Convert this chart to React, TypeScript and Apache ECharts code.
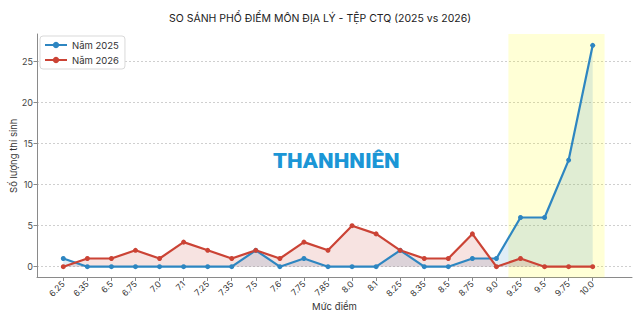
import React, { useEffect, useRef } from "react";
import * as echarts from "echarts";

const categories = ["6.25", "6.35", "6.5", "6.75", "7.0", "7.1", "7.25", "7.35", "7.5", "7.6", "7.75", "7.85", "8.0", "8.1", "8.25", "8.35", "8.5", "8.75", "9.0", "9.25", "9.5", "9.75", "10.0"];
const counts2025 = [1, 0, 0, 0, 0, 0, 0, 0, 2, 0, 1, 0, 0, 0, 2, 0, 0, 1, 1, 6, 6, 13, 27];
const counts2026 = [0, 1, 1, 2, 1, 3, 2, 1, 2, 1, 3, 2, 5, 4, 2, 1, 1, 4, 0, 1, 0, 0, 0];
const seriesNames = ["Năm 2025", "Năm 2026"];
// highlighted score band, in category-index units (9.0 .. 10.0 plus half a step)
const highlightBand = [18.5, 22.5];
const yMin = 0;
const yMax = 25;
const yStep = 5;

const FONT = "Inter, 'Noto Sans', sans-serif";
const BLUE = "#2E86C1";
const RED = "#CB4335";

export default function App() {
  const ref = useRef<HTMLDivElement>(null);
  useEffect(() => {
    if (!ref.current) return;
    const chart = echarts.init(ref.current, null, { renderer: "svg" });
    const frame = { left: 37, right: 8, top: 34, bottom: 42.5 };
    const data = { left: 63.3, right: 47.3, top: 61.7, bottom: 53.3 };
    chart.setOption({
      animation: false,
      backgroundColor: "#ffffff",
      textStyle: { fontFamily: FONT },
      title: {
        text: "SO SÁNH PHỔ ĐIỂM MÔN ĐỊA LÝ - TỆP CTQ (2025 vs 2026)",
        left: "center",
        top: 8,
        textStyle: { fontFamily: FONT, fontSize: 10.5, fontWeight: "normal", color: "#222" },
      },
      legend: {
        data: seriesNames,
        orient: "vertical",
        left: 40,
        top: 36,
        itemWidth: 22,
        itemHeight: 8,
        itemGap: 5,
        padding: [4, 6, 4, 4],
        borderColor: "#d9d9d9",
        borderWidth: 1,
        borderRadius: 3,
        backgroundColor: "#fff",
        textStyle: { fontFamily: FONT, fontSize: 9.5, color: "#333" },
      },
      graphic: [
        {
          type: "text",
          x: 273,
          y: 150,
          scaleX: 1.06,
          z: 1,
          style: {
            text: "THANHNIÊN",
            fontFamily: "Roboto, sans-serif",
            fontWeight: 900,
            fontSize: 21,
            fill: "#1B96D6",
            verticalAlign: "top",
            align: "left",
          },
        },
      ],
      grid: [
        { ...frame },
        { ...data },
        { left: frame.left, right: frame.right, top: data.top, bottom: data.bottom },
      ],
      xAxis: [
        {
          gridIndex: 0,
          type: "value",
          min: -1.1,
          max: 23.64,
          axisLine: { show: true, onZero: false, lineStyle: { color: "#8a8a8a", width: 1 } },
          axisTick: { show: false },
          axisLabel: { show: false },
          splitLine: { show: false },
          name: "Mức điểm",
          nameLocation: "middle",
          nameGap: 24,
          nameTextStyle: { fontFamily: FONT, fontSize: 9.5, color: "#333" },
        },
        {
          gridIndex: 1,
          type: "category",
          data: categories,
          boundaryGap: false,
          offset: 10.8,
          axisLine: { show: false, onZero: false },
          axisTick: { show: true, length: 3.5, lineStyle: { color: "#8a8a8a" } },
          axisLabel: { rotate: 45, fontSize: 8.5, color: "#333", margin: 5, interval: 0, fontFamily: FONT },
          splitLine: { show: false },
        },
        {
          gridIndex: 2,
          type: "value",
          min: 0,
          max: 1,
          show: false,
        },
      ],
      yAxis: [
        {
          gridIndex: 0,
          type: "value",
          min: -1.35,
          max: 28.35,
          axisLine: { show: true, onZero: false, lineStyle: { color: "#8a8a8a", width: 1 } },
          axisTick: { show: false },
          axisLabel: { show: false },
          splitLine: { show: false },
          name: "Số lượng thí sinh",
          nameLocation: "middle",
          nameGap: 19,
          nameTextStyle: { fontFamily: FONT, fontSize: 9.5, color: "#333" },
        },
        {
          gridIndex: 1,
          type: "value",
          min: yMin,
          max: yMax,
          interval: yStep,
          offset: 26.3,
          axisLine: { show: false, onZero: false },
          axisTick: { show: true, length: 3.5, lineStyle: { color: "#8a8a8a" } },
          axisLabel: { fontSize: 9, color: "#444", margin: 4, fontFamily: FONT },
          splitLine: { show: false },
        },
        {
          gridIndex: 2,
          type: "value",
          min: yMin,
          max: yMax,
          interval: yStep,
          axisLine: { show: false },
          axisTick: { show: false },
          axisLabel: { show: false },
          splitLine: { show: true, lineStyle: { color: "#cfcfcf", type: [2, 2], width: 1 } },
        },
      ],
      series: [
        {
          type: "line",
          xAxisIndex: 0,
          yAxisIndex: 0,
          data: [[0, -10]],
          showSymbol: false,
          lineStyle: { opacity: 0 },
          silent: true,
          markArea: {
            silent: true,
            itemStyle: { color: "rgba(255,255,0,0.16)" },
            data: [[{ xAxis: highlightBand[0] }, { xAxis: highlightBand[1] }]],
          },
        },
        {
          name: seriesNames[0],
          type: "line",
          xAxisIndex: 1,
          yAxisIndex: 1,
          data: counts2025,
          clip: false,
          symbol: "circle",
          symbolSize: 5,
          itemStyle: { color: BLUE },
          lineStyle: { color: BLUE, width: 2.2 },
          areaStyle: { color: BLUE, opacity: 0.15 },
          z: 4,
        },
        {
          name: seriesNames[1],
          type: "line",
          xAxisIndex: 1,
          yAxisIndex: 1,
          data: counts2026,
          clip: false,
          symbol: "circle",
          symbolSize: 5,
          itemStyle: { color: RED },
          lineStyle: { color: RED, width: 2.2 },
          areaStyle: { color: RED, opacity: 0.15 },
          z: 4,
        },
      ],
    });
    return () => chart.dispose();
  }, []);
  return <div ref={ref} style={{ width: 640, height: 320, position: "absolute", left: 0, top: 0 }} />;
}
